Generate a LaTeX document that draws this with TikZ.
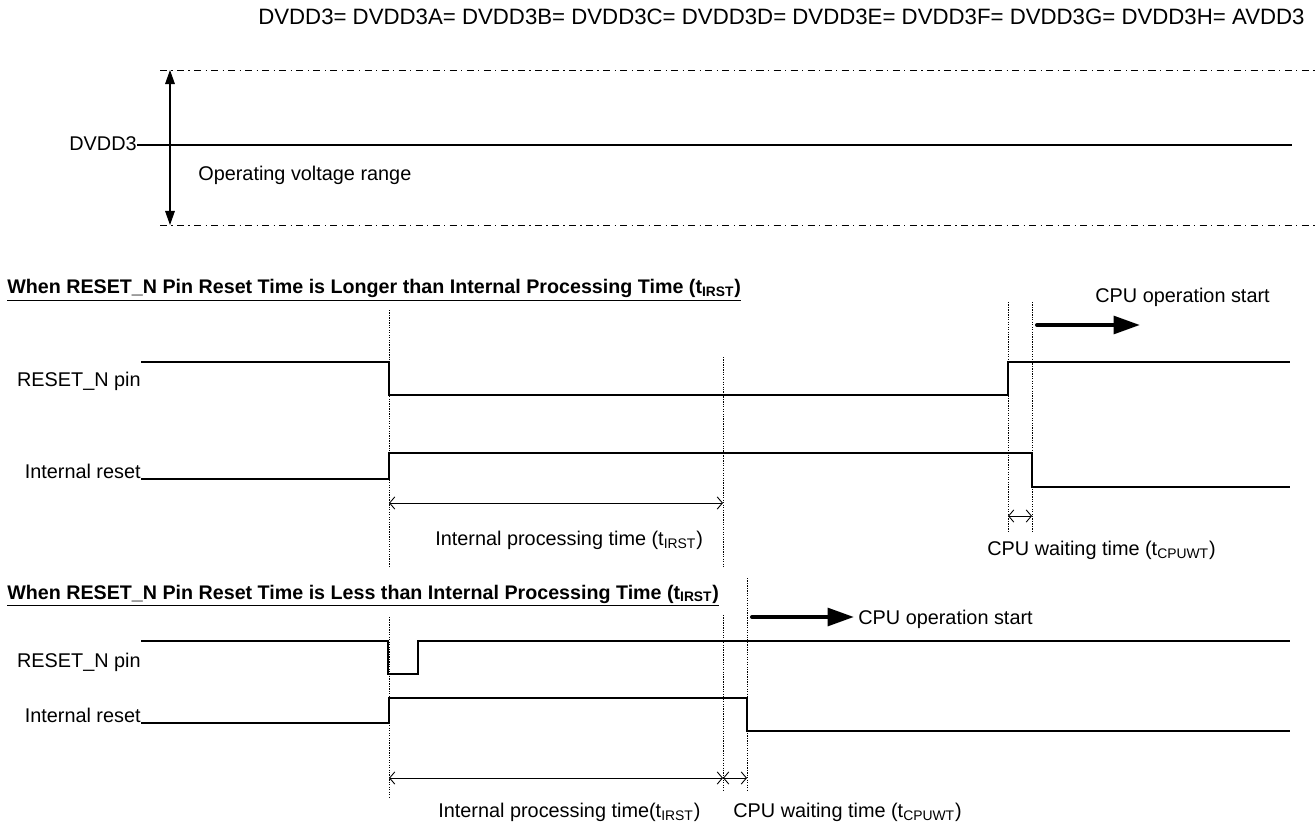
\documentclass[tikz,border=0pt]{standalone}
\usepackage{fontspec}
\setmainfont{Liberation Sans}
\usetikzlibrary{arrows.meta,calc}

\begin{document}
\begin{tikzpicture}[x=0.02cm,y=-0.02cm,inner sep=0pt,font=\fontsize{11.3}{13}\selectfont]
	\tikzstyle{sig} = [line width=0.6pt]
	\tikzstyle{guide} = [line width=0.5pt,dash pattern=on 0.7pt off 0.7pt]
	\tikzstyle{limit} = [line width=0.5pt,dash pattern=on 4pt off 2.5pt on 0.7pt off 2.5pt]
	\tikzstyle{tspan} = [line width=0.5pt,{Straight Barb[length=3pt,width=7pt]}-{Straight Barb[length=3pt,width=7pt]}]
	\tikzstyle{vspan} = [line width=0.6pt,{Triangle[length=8pt,width=5.5pt]}-{Triangle[length=8pt,width=5.5pt]}]
	\tikzstyle{go} = [line width=2.3pt,line cap=round,-{Triangle[length=15pt,width=10pt]}]
	\tikzstyle{ttl} = [anchor=base west,font=\fontsize{11.2}{13}\selectfont\bfseries]
	\useasboundingbox (0,0) rectangle (1315,824);
	\node(hdr)[anchor=base east,font=\fontsize{12.65}{14}\selectfont] at (1305,25) {DVDD3= DVDD3A= DVDD3B= DVDD3C= DVDD3D= DVDD3E= DVDD3F= DVDD3G= DVDD3H= AVDD3};
	\node(dvdd)[anchor=base east] at (137,151) {DVDD3};
	\node(opr)[anchor=base west] at (198,181) {Operating voltage range};
	\coordinate(dvddend) at (1292,145);
	\coordinate(hiA) at (160,70);
	\coordinate(hiB) at (1315,70);
	\coordinate(loA) at (160,225);
	\coordinate(loB) at (1315,225);
	\coordinate(rngT) at (170,70);
	\coordinate(rngB) at (170,225);
	\draw[sig](dvdd.east |- dvddend) -- (dvddend);
	\draw[limit](hiA) -- (hiB);
	\draw[limit](loA) -- (loB);
	\draw[vspan](rngT) -- (rngB);

	\node(ttlA)[ttl] at (7,294) {\underline{When RESET\_N Pin Reset Time is Longer than Internal Processing Time (t\textsubscript{IRST})}};
	\node(pinA)[anchor=base east] at (141,386) {RESET\_N pin};
	\node(intA)[anchor=base east] at (141,478) {Internal reset};
	\node(cpuA)[anchor=base west] at (1095,302) {CPU operation start};
	\node(procA)[anchor=base west] at (435,545) {Internal processing time (t\textsubscript{IRST})};
	\node(waitA)[anchor=base west] at (987,555) {CPU waiting time (t\textsubscript{CPUWT})};
	\coordinate(pA0) at (141,362);
	\coordinate(pA1) at (389,362);
	\coordinate(pA2) at (389,395);
	\coordinate(pA3) at (1008,395);
	\coordinate(pA4) at (1008,362);
	\coordinate(pA5) at (1290,362);
	\coordinate(iA0) at (141,479);
	\coordinate(iA1) at (389,479);
	\coordinate(iA2) at (389,453);
	\coordinate(iA3) at (1032,453);
	\coordinate(iA4) at (1032,487);
	\coordinate(iA5) at (1290,487);
	\draw[sig](pA0) -- (pA1) -- (pA2) -- (pA3) -- (pA4) -- (pA5);
	\draw[sig](iA0) -- (iA1) -- (iA2) -- (iA3) -- (iA4) -- (iA5);
	\draw[guide](389,310) -- (389,568);
	\draw[guide](723,357) -- (723,568);
	\draw[guide](1008,302) -- (1008,532);
	\draw[guide](1032,302) -- (1032,532);
	\coordinate(sA0) at (389,503);
	\coordinate(sA1) at (723,503);
	\coordinate(wA0) at (1008,516);
	\coordinate(wA1) at (1032,516);
	\coordinate(gA0) at (1037,325);
	\coordinate(gA1) at (1140,325);
	\draw[tspan](sA0) -- (sA1);
	\draw[tspan](wA0) -- (wA1);
	\draw[go](gA0) -- (gA1);

	\node(ttlB)[ttl] at (7,599) {\underline{When RESET\_N Pin Reset Time is Less than Internal Processing Time (t\textsubscript{IRST})}};
	\node(pinB)[anchor=base east] at (141,667) {RESET\_N pin};
	\node(intB)[anchor=base east] at (141,722) {Internal reset};
	\node(cpuB)[anchor=base west] at (858,624) {CPU operation start};
	\node(procB)[anchor=base west] at (438,817) {Internal processing time(t\textsubscript{IRST})};
	\node(waitB)[anchor=base west] at (733,817) {CPU waiting time (t\textsubscript{CPUWT})};
	\coordinate(pB0) at (141,641);
	\coordinate(pB1) at (388,641);
	\coordinate(pB2) at (388,674);
	\coordinate(pB3) at (418,674);
	\coordinate(pB4) at (418,641);
	\coordinate(pB5) at (1290,641);
	\coordinate(iB0) at (141,723);
	\coordinate(iB1) at (389,723);
	\coordinate(iB2) at (389,698);
	\coordinate(iB3) at (747,698);
	\coordinate(iB4) at (747,731);
	\coordinate(iB5) at (1290,731);
	\draw[sig](pB0) -- (pB1) -- (pB2) -- (pB3) -- (pB4) -- (pB5);
	\draw[sig](iB0) -- (iB1) -- (iB2) -- (iB3) -- (iB4) -- (iB5);
	\draw[guide](389,617) -- (389,797);
	\draw[guide](723,615) -- (723,790);
	\draw[guide](747,578) -- (747,791);
	\coordinate(sB0) at (389,778);
	\coordinate(sB1) at (723,778);
	\coordinate(wB1) at (747,778);
	\coordinate(gB0) at (752,617);
	\coordinate(gB1) at (854,617);
	\draw[tspan](sB0) -- (sB1);
	\draw[tspan](sB1) -- (wB1);
	\draw[go](gB0) -- (gB1);
\end{tikzpicture}
\end{document}
